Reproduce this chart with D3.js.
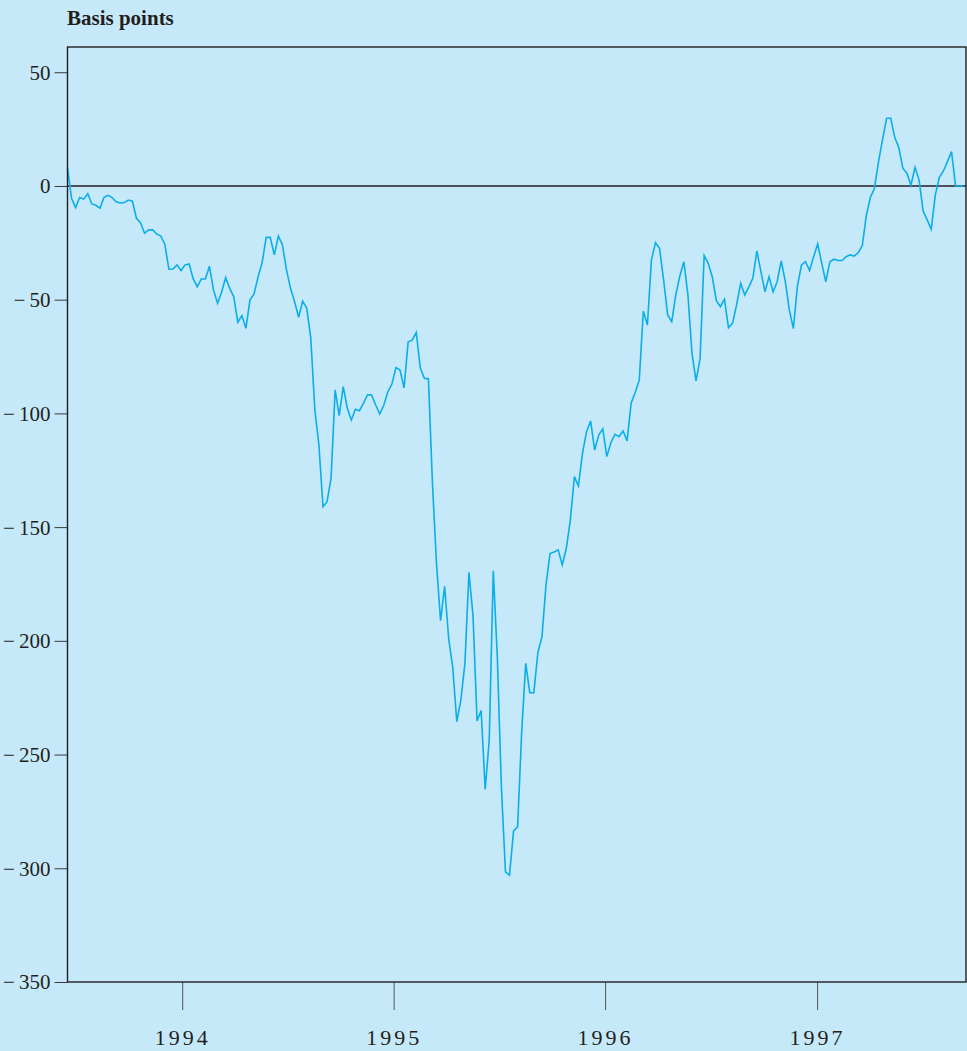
<!DOCTYPE html>
<html>
<head>
<meta charset="utf-8">
<script src="https://cdn.jsdelivr.net/npm/d3@7"></script>
<style>
  html, body { margin: 0; padding: 0; background: #c6e9f9; }
  svg { display: block; }
</style>
</head>
<body>
<div id="chart"></div>
<script>
// Spread in basis points, weekly observations from mid-June 1993
const firstWeek = "1993-06-17";
const spread = [
  7.8, -5.4, -9.5, -5.1, -5.8, -3.4, -7.9, -8.5, -9.8, -5.0,
  -4.1, -5.1, -7.0, -7.5, -7.3, -6.2, -6.7, -14.2, -16.1, -20.8,
  -19.3, -19.3, -21.1, -22.0, -25.6, -36.6, -36.5, -34.7, -37.2, -34.7,
  -34.3, -40.9, -44.3, -40.9, -40.9, -35.3, -45.7, -51.6, -46.7, -40.3,
  -45.0, -48.7, -59.9, -57.0, -62.6, -50.1, -47.5, -39.9, -33.7, -22.6,
  -22.6, -30.3, -22.0, -25.9, -36.9, -45.0, -50.9, -57.7, -50.6, -53.8,
  -67.0, -98.5, -113.9, -141.0, -138.8, -128.5, -89.7, -101.0, -88.2, -97.7,
  -102.9, -98.2, -98.8, -95.5, -91.8, -91.9, -96.3, -100.3, -96.4, -90.5,
  -87.1, -79.8, -80.9, -88.8, -68.6, -67.8, -64.4, -80.1, -84.6, -84.8,
  -130.9, -166.2, -191.1, -176.0, -199.0, -211.7, -235.5, -226.0, -210.0, -169.9,
  -188.9, -235.2, -230.6, -265.3, -243.6, -169.2, -207.5, -264.3, -301.6, -303.0,
  -283.6, -281.8, -240.1, -209.9, -222.8, -222.8, -205.1, -198.3, -175.4, -161.6,
  -160.9, -160.0, -166.6, -159.4, -146.9, -127.8, -131.9, -117.5, -108.0, -103.3,
  -116.1, -109.5, -106.8, -119.0, -112.9, -109.2, -110.2, -107.7, -112.1, -95.4,
  -90.8, -85.3, -55.0, -61.1, -32.5, -24.9, -27.4, -41.3, -56.7, -59.7,
  -47.9, -39.6, -33.3, -47.9, -73.6, -85.7, -75.8, -30.6, -34.0, -39.9,
  -50.4, -53.1, -49.8, -62.3, -60.4, -52.3, -42.8, -47.9, -44.5, -40.6,
  -28.6, -37.7, -46.5, -39.9, -46.5, -42.1, -33.0, -41.8, -54.5, -62.7,
  -44.0, -34.7, -33.3, -37.2, -31.1, -25.5, -34.0, -42.1, -33.3, -32.2,
  -32.8, -32.8, -31.1, -30.3, -30.8, -29.3, -26.2, -12.8, -5.0, -1.0,
  10.7, 20.5, 29.8, 29.8, 21.4, 16.8, 7.8, 5.6, 0.4, 8.2,
  2.6, -11.0, -14.9, -19.0, -4.0, 3.8, 6.6, 10.7, 15.1, 0.0,
  0.0, 0.0
];
const yTicks = [50, 0, -50, -100, -150, -200, -250, -300, -350];
const yearTicks = ["1994-01-01", "1995-01-01", "1996-01-01", "1997-01-01"];
const yLabel = "Basis points";

const W = 967, H = 1051;
const plot = { left: 67.5, right: 966, top: 47, bottom: 982 };

const parse = d3.timeParse("%Y-%m-%d");
const start = parse(firstWeek);
const series = spread.map((v, i) => ({ date: d3.timeDay.offset(start, 7 * i), value: v }));

const x = d3.scaleTime()
  .domain([parse("1993-06-17"), parse("1997-09-15")])
  .range([plot.left, plot.right]);

const y = d3.scaleLinear()
  .domain([-350, 61.1])
  .range([plot.bottom, plot.top]);

const svg = d3.select("#chart").append("svg")
  .attr("width", W).attr("height", H);

svg.append("rect").attr("width", W).attr("height", H).attr("fill", "#c6e9f9");

// Axis title
svg.append("text")
  .attr("x", 67).attr("y", 25)
  .attr("font-family", "'Liberation Serif', 'Times New Roman', serif")
  .attr("font-weight", "bold")
  .attr("font-size", 21)
  .attr("fill", "#231f20")
  .text(yLabel);

// Left axis
const fmt = v => v < 0 ? "\u2212\u2009" + Math.abs(v) : String(v);
const yAxis = svg.append("g")
  .attr("transform", `translate(${plot.left},0)`)
  .call(d3.axisLeft(y).tickValues(yTicks).tickSize(13).tickPadding(4).tickFormat(fmt));
yAxis.select(".domain").remove();
yAxis.selectAll(".tick line").attr("stroke", "#3a3a3a").attr("stroke-width", 1);
yAxis.selectAll(".tick text")
  .attr("font-family", "'Liberation Serif', 'Times New Roman', serif")
  .attr("font-size", 21)
  .attr("fill", "#231f20")
  .attr("dy", "0.33em");

// Bottom axis
const xAxis = svg.append("g")
  .attr("transform", `translate(0,${plot.bottom})`)
  .call(d3.axisBottom(x).tickValues(yearTicks.map(parse)).tickSize(28).tickPadding(19)
    .tickFormat(d3.timeFormat("%Y")));
xAxis.select(".domain").remove();
xAxis.selectAll(".tick line").attr("stroke", "#555").attr("stroke-width", 1);
xAxis.selectAll(".tick text")
  .attr("font-family", "'Liberation Serif', 'Times New Roman', serif")
  .attr("font-size", 22)
  .attr("letter-spacing", "3px")
  .attr("fill", "#231f20");

// Zero reference line
svg.append("line")
  .attr("x1", plot.left).attr("x2", plot.right)
  .attr("y1", y(0)).attr("y2", y(0))
  .attr("stroke", "#231f20").attr("stroke-width", 1.4);

// Data line
const line = d3.line()
  .x(d => x(d.date))
  .y(d => y(d.value));

svg.append("path")
  .datum(series)
  .attr("fill", "none")
  .attr("stroke", "#0aaee9")
  .attr("stroke-width", 1.6)
  .attr("stroke-linejoin", "miter")
  .attr("d", line);

// Plot frame
svg.append("rect")
  .attr("x", plot.left).attr("y", plot.top)
  .attr("width", plot.right - plot.left).attr("height", plot.bottom - plot.top)
  .attr("fill", "none")
  .attr("stroke", "#231f20").attr("stroke-width", 1.4);
</script>
</body>
</html>
